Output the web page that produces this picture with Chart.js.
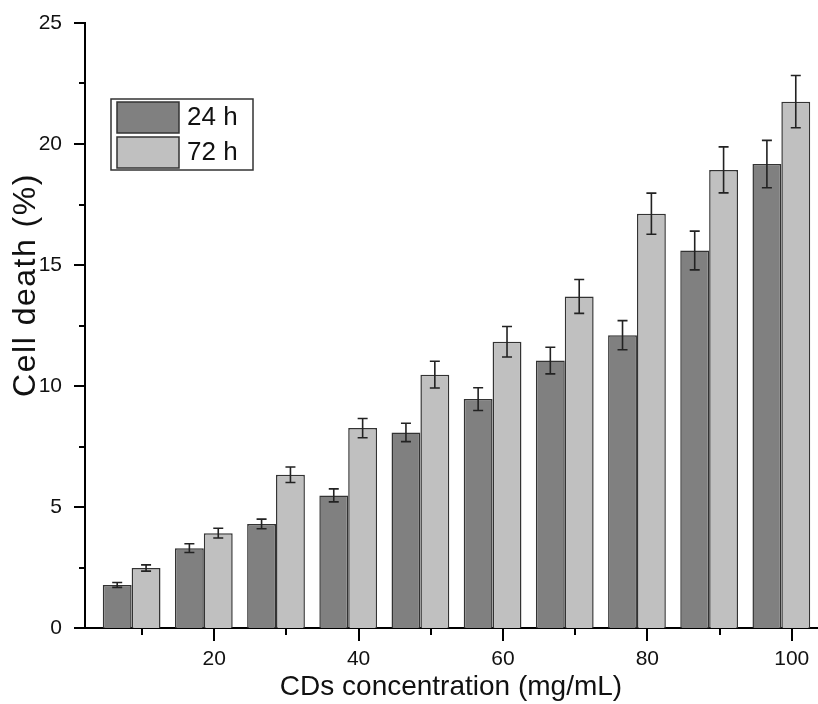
<!DOCTYPE html>
<html>
<head>
<meta charset="utf-8">
<script src="https://cdn.jsdelivr.net/npm/chart.js@4/dist/chart.umd.min.js"></script>
<style>
  html, body { margin:0; padding:0; background:#fff; }
  #wrap { width:818px; height:704px; }
</style>
</head>
<body>
<div id="wrap"><canvas id="deathChart" width="818" height="704"></canvas></div>
<script>
var concentrations = [10, 20, 30, 40, 50, 60, 70, 80, 90, 100];
var death24 = [1.78, 3.30, 4.30, 5.48, 8.08, 9.46, 11.05, 12.10, 15.60, 19.17];
var err24   = [0.10, 0.18, 0.20, 0.27, 0.38, 0.47, 0.55, 0.60, 0.80, 0.98];
var death72 = [2.48, 3.92, 6.33, 8.26, 10.47, 11.83, 13.70, 17.12, 18.93, 21.75];
var err72   = [0.13, 0.20, 0.32, 0.40, 0.55, 0.63, 0.70, 0.85, 0.95, 1.08];
var xTickValues = [10, 20, 30, 40, 50, 60, 70, 80, 90, 100];
var yTickValues = [0, 2.5, 5, 7.5, 10, 12.5, 15, 17.5, 20, 22.5, 25];

var font = 'Liberation Sans, Arial, sans-serif';
var ink = '#111';

//Error bars
var errorBars = {
  id: 'errorBars',
  afterDatasetsDraw: function(chart) {
    var ctx = chart.ctx, y = chart.scales.y;
    ctx.save();
    ctx.strokeStyle = '#222';
    ctx.lineWidth = 1.6;
    chart.data.datasets.forEach(function(ds, di) {
      var meta = chart.getDatasetMeta(di);
      meta.data.forEach(function(bar, i) {
        var top = y.getPixelForValue(ds.data[i] + ds.errors[i]);
        var bot = y.getPixelForValue(ds.data[i] - ds.errors[i]);
        ctx.beginPath();
        ctx.moveTo(bar.x, top); ctx.lineTo(bar.x, bot);
        ctx.moveTo(bar.x - 5, top); ctx.lineTo(bar.x + 5, top);
        ctx.moveTo(bar.x - 5, bot); ctx.lineTo(bar.x + 5, bot);
        ctx.stroke();
      });
    });
    ctx.restore();
  }
};

//Tick marks, legend, y title
var decorations = {
  id: 'decorations',
  afterDraw: function(chart) {
    var ctx = chart.ctx, a = chart.chartArea;
    var xs = chart.scales.x, ys = chart.scales.y;
    ctx.save();
    ctx.strokeStyle = '#000';
    ctx.lineWidth = 2;
    ctx.beginPath();
    xTickValues.forEach(function(v) {
      var px = Math.round(xs.getPixelForValue(v));
      ctx.moveTo(px, a.bottom); ctx.lineTo(px, a.bottom + (v % 20 === 0 ? 13 : 7));
    });
    yTickValues.forEach(function(v) {
      var py = Math.round(ys.getPixelForValue(v));
      ctx.moveTo(a.left, py); ctx.lineTo(a.left - (v % 5 === 0 ? 11 : 6), py);
    });
    ctx.stroke();

    // legend box
    var lx = a.left + 26, ly = a.top + 76;
    ctx.lineWidth = 1.5;
    ctx.strokeStyle = '#333';
    ctx.strokeRect(lx, ly, 142, 71);
    ctx.font = '26px ' + font;
    ctx.textBaseline = 'middle';
    chart.data.datasets.forEach(function(ds, i) {
      var sy = ly + 3 + i * 35;
      ctx.fillStyle = ds.backgroundColor;
      ctx.fillRect(lx + 6, sy, 62, 31);
      ctx.strokeStyle = '#333';
      ctx.strokeRect(lx + 6, sy, 62, 31);
      ctx.fillStyle = ink;
      ctx.fillText(ds.label, lx + 76, sy + 16);
    });

    // y title
    ctx.translate(26, 285);
    ctx.rotate(-Math.PI / 2);
    ctx.font = '32px ' + font;
    ctx.letterSpacing = '1.5px';
    ctx.textAlign = 'center';
    ctx.fillStyle = ink;
    ctx.fillText('Cell death (%)', 0, 0);
    ctx.restore();
  }
};

new Chart(document.getElementById('deathChart').getContext('2d'), {
  type: 'bar',
  data: {
    labels: concentrations,
    datasets: [
      { label: '24 h', data: death24, errors: err24, xAxisID: 'xb',
        backgroundColor: '#808080', borderColor: '#333', borderWidth: 1.5 },
      { label: '72 h', data: death72, errors: err72, xAxisID: 'xb',
        backgroundColor: '#c0c0c0', borderColor: '#333', borderWidth: 1.5 }
    ]
  },
  options: {
    responsive: false,
    animation: false,
    categoryPercentage: 0.8,
    barPercentage: 1.0,
    layout: { padding: { top: 23, right: 1, left: 0, bottom: 0 } },
    plugins: { legend: { display: false }, tooltip: { enabled: false } },
    scales: {
      xb: {
        type: 'linear', display: false, offset: false, min: 3.54, max: 104.94,
        afterBuildTicks: function(s) { s.ticks = concentrations.map(function(v){ return { value: v }; }); }
      },
      x: {
        type: 'linear', position: 'bottom', offset: false, min: 2.1, max: 103.5,
        afterBuildTicks: function(s) { s.ticks = xTickValues.map(function(v){ return { value: v }; }); },
        afterFit: function(s) { s.height = 76; s.paddingLeft = 0; s.paddingRight = 0; },
        grid: { display: false, drawTicks: false },
        border: { display: true, color: '#000', width: 2 },
        ticks: {
          padding: 19, color: ink, font: { family: font, size: 21 }, maxRotation: 0, autoSkip: false,
          callback: function(v) { return v % 20 === 0 ? String(v) : ''; }
        },
        title: { display: true, text: 'CDs concentration (mg/mL)', color: ink,
          font: { family: font, size: 28 }, padding: { top: 0, bottom: 0 } }
      },
      y: {
        min: 0, max: 25,
        afterBuildTicks: function(s) { s.ticks = yTickValues.map(function(v){ return { value: v }; }); },
        afterFit: function(s) { s.width = 85; s.paddingTop = 0; s.paddingBottom = 0; },
        grid: { display: false, drawTicks: false },
        border: { display: true, color: '#000', width: 2 },
        ticks: {
          padding: 23, color: ink, font: { family: font, size: 21 }, autoSkip: false,
          callback: function(v) { return v % 5 === 0 ? String(v) : ''; }
        }
      }
    }
  },
  plugins: [errorBars, decorations]
});
</script>
</body>
</html>
